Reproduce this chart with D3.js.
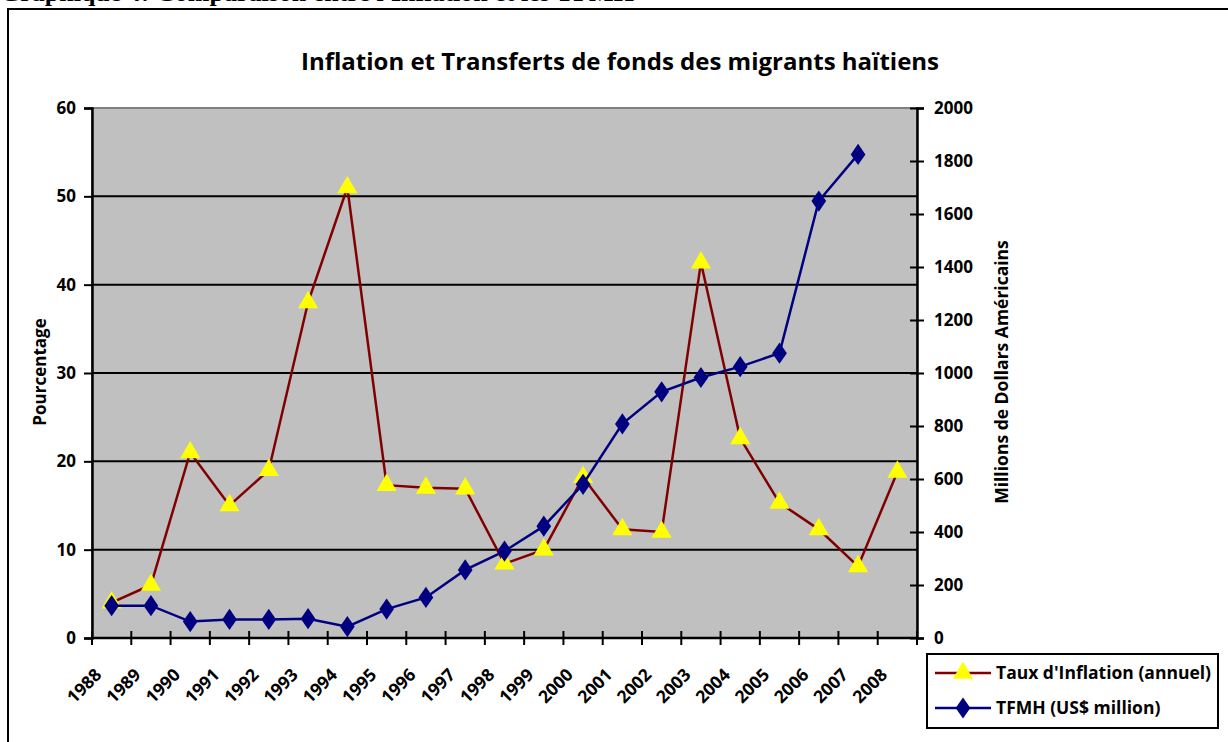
<!DOCTYPE html>
<html>
<head>
<meta charset="utf-8">
<script src="https://cdn.jsdelivr.net/npm/d3@7"></script>
<style>
  body { margin: 0; background: #fff; }
  svg { display: block; }
  text { font-family: "Open Sans", Lato, sans-serif; font-weight: bold; fill: #000; }
</style>
</head>
<body>
<svg id="chart" width="1228" height="742"></svg>
<script>
// data
var years = ["1988","1989","1990","1991","1992","1993","1994","1995","1996","1997","1998",
             "1999","2000","2001","2002","2003","2004","2005","2006","2007","2008"];
var inflation = [4.0, 6.0, 21.0, 15.0, 19.0, 38.0, 51.0, 17.3, 17.0, 16.9, 8.4,
                 10.0, 18.2, 12.3, 12.0, 42.5, 22.6, 15.3, 12.3, 8.1, 18.8];
var tfmh = [122, 122, 62, 70, 70, 73, 43, 109, 153, 257, 328,
            422, 580, 808, 929, 983, 1024, 1075, 1649, 1825, null];
var leftTicks = [0, 10, 20, 30, 40, 50, 60];
var rightTicks = [0, 200, 400, 600, 800, 1000, 1200, 1400, 1600, 1800, 2000];

var svg = d3.select("#chart");

var pL = 92, pR = 917, pT = 108, pB = 638;

var x = d3.scaleBand().domain(years).range([pL, pR]).padding(0);
var xEdge = d3.scaleLinear().domain([0, years.length]).range([pL, pR]);
var yL = d3.scaleLinear().domain([0, 60]).range([pB, pT]);
var yR = d3.scaleLinear().domain([0, 2000]).range([pB, pT]);

function cx(d, i) { return x(years[i]) + x.bandwidth() / 2; }

// caption cut by the page edge
svg.append("text")
  .attr("x", 0).attr("y", 1)
  .style("font-family", "'Liberation Serif', serif")
  .style("font-size", "26px")
  .text("Graphique 4: Comparaison entre l'Inflation et les TFMH");

// outer frame
svg.append("rect")
  .attr("x", 8).attr("y", 9).attr("width", 1240).attr("height", 760)
  .attr("fill", "none").attr("stroke", "#000").attr("stroke-width", 2);

svg.append("text")
  .attr("x", 620).attr("y", 70)
  .attr("text-anchor", "middle")
  .style("font-size", "24px")
  .text("Inflation et Transferts de fonds des migrants haïtiens");

// plot area
svg.append("rect")
  .attr("x", pL).attr("y", pT).attr("width", pR - pL).attr("height", pB - pT)
  .attr("fill", "#c0c0c0").attr("stroke", "#808080").attr("stroke-width", 2);

svg.selectAll(".grid")
  .data(leftTicks.filter(function(d) { return d > 0 && d < 60; }))
  .enter().append("line")
  .attr("x1", pL).attr("x2", pR)
  .attr("y1", function(d) { return yL(d); }).attr("y2", function(d) { return yL(d); })
  .attr("stroke", "#000").attr("stroke-width", 2);

// left axis
var gL = svg.append("g").attr("transform", "translate(" + pL + ",0)")
  .call(d3.axisLeft(yL).tickValues(leftTicks).tickSize(8).tickPadding(8));
gL.select(".domain").attr("stroke", "#000").attr("stroke-width", 2.5);
gL.selectAll(".tick line").attr("stroke-width", 2);
gL.selectAll(".tick text").style("font-size", "17px");

// right axis, ticks crossing
var gR = svg.append("g").attr("transform", "translate(" + pR + ",0)")
  .call(d3.axisRight(yR).tickValues(rightTicks).tickFormat(d3.format("d")).tickSize(7).tickPadding(10));
gR.select(".domain").attr("stroke", "#000").attr("stroke-width", 2.5);
gR.selectAll(".tick line").attr("x1", -7).attr("stroke-width", 2);
gR.selectAll(".tick text").style("font-size", "17px");

// bottom axis
svg.append("line")
  .attr("x1", pL).attr("x2", pR).attr("y1", pB).attr("y2", pB)
  .attr("stroke", "#000").attr("stroke-width", 2.5);
svg.selectAll(".xtick")
  .data(d3.range(years.length + 1))
  .enter().append("line")
  .attr("x1", function(d) { return xEdge(d); }).attr("x2", function(d) { return xEdge(d); })
  .attr("y1", pB - 7).attr("y2", pB + 7)
  .attr("stroke", "#000").attr("stroke-width", 2);
svg.selectAll(".xlab")
  .data(years)
  .enter().append("text")
  .attr("transform", function(d) {
    return "translate(" + (x(d) + x.bandwidth() / 2 - 9) + "," + (pB + 38) + ") rotate(-45)";
  })
  .attr("text-anchor", "end")
  .style("font-size", "17.5px")
  .text(function(d) { return d; });

// axis titles
svg.append("text")
  .attr("transform", "translate(46,372) rotate(-90)")
  .attr("text-anchor", "middle")
  .style("font-size", "17px")
  .text("Pourcentage");
svg.append("text")
  .attr("transform", "translate(1008,372) rotate(-90)")
  .attr("text-anchor", "middle")
  .style("font-size", "17.5px")
  .text("Millions de Dollars Américains");

// inflation series
var lineL = d3.line().x(cx).y(function(d) { return yL(d); });
svg.append("path")
  .attr("d", lineL(inflation))
  .attr("fill", "none").attr("stroke", "#800000").attr("stroke-width", 2.5);
var tri = d3.symbol().type(d3.symbolTriangle).size(175);
svg.selectAll(".tri")
  .data(inflation)
  .enter().append("path")
  .attr("d", tri)
  .attr("transform", function(d, i) { return "translate(" + cx(d, i) + "," + yL(d) + ")"; })
  .attr("fill", "#ffff00");

// TFMH series
var lineR = d3.line().defined(function(d) { return d != null; }).x(cx).y(function(d) { return yR(d); });
svg.append("path")
  .attr("d", lineR(tfmh))
  .attr("fill", "none").attr("stroke", "#000080").attr("stroke-width", 2.5);
var dia = d3.symbol().type(d3.symbolDiamond).size(130);
svg.selectAll(".dia")
  .data(tfmh.map(function(d, i) { return { v: d, i: i }; }).filter(function(d) { return d.v != null; }))
  .enter().append("path")
  .attr("d", dia)
  .attr("transform", function(d) {
    return "translate(" + cx(null, d.i) + "," + yR(d.v) + ") scale(1.2,1)";
  })
  .attr("fill", "#000080");

// legend
var lg = svg.append("g").attr("transform", "translate(927,654)");
lg.append("rect").attr("width", 291).attr("height", 74)
  .attr("fill", "#fff").attr("stroke", "#000").attr("stroke-width", 2);
var entries = [
  { label: "Taux d'Inflation (annuel)", color: "#800000", mark: tri, fill: "#ffff00", s: "" },
  { label: "TFMH (US$ million)", color: "#000080", mark: dia, fill: "#000080", s: " scale(1.2,1)" }
];
entries.forEach(function(e, k) {
  var yy = 19 + k * 35;
  lg.append("line").attr("x1", 8).attr("x2", 64).attr("y1", yy).attr("y2", yy)
    .attr("stroke", e.color).attr("stroke-width", 2.5);
  lg.append("path").attr("d", e.mark)
    .attr("transform", "translate(36," + yy + ")" + e.s)
    .attr("fill", e.fill);
  lg.append("text").attr("x", 69).attr("y", yy + 6)
    .style("font-size", "17.5px")
    .text(e.label);
});
</script>
</body>
</html>
